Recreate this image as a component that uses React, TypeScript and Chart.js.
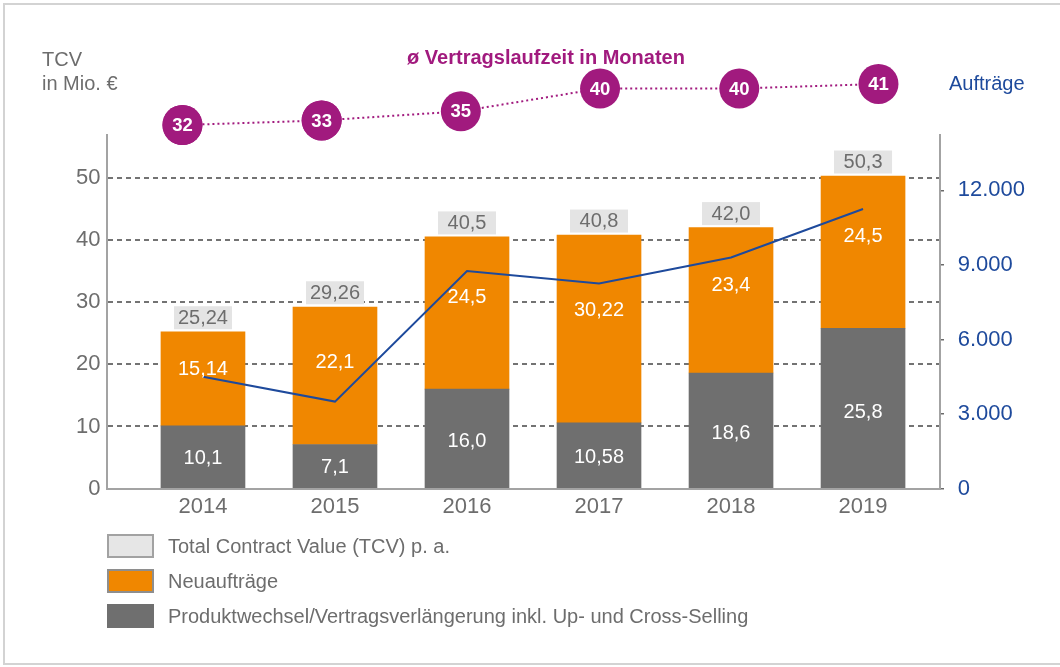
import React, { useEffect, useRef } from 'react';
import { Chart, registerables } from 'chart.js';

Chart.register(...registerables);

// ---------- data ----------
const years = ['2014', '2015', '2016', '2017', '2018', '2019'];
const produktwechsel = [10.1, 7.1, 16.0, 10.58, 18.6, 25.8];
const neuauftraege = [15.14, 22.1, 24.5, 30.22, 23.4, 24.5];
const tcvTotals = [25.24, 29.26, 40.5, 40.8, 42.0, 50.3];
const auftraege = [4500, 3500, 8750, 8250, 9300, 11250];
const laufzeit = [32, 33, 35, 40, 40, 41];
const leftTicks = [0, 10, 20, 30, 40, 50];
const rightTicks = [0, 3000, 6000, 9000, 12000];
const legendLabels = [
  'Total Contract Value (TCV) p. a.',
  'Neuaufträge',
  'Produktwechsel/Vertragsverlängerung inkl. Up- und Cross-Selling',
];

// ---------- styles ----------
const FONT = '"Liberation Sans", Arial, Helvetica, sans-serif';
const GRAY_TEXT = '#6d6d6d';
const ORANGE = '#f08700';
const DARK = '#6f6f6f';
const TCV_BOX = '#e4e4e4';
const PURPLE = '#a11a7e';
const BLUE = '#1e4a9c';
const AXIS = '#a3a3a3';

const de = (v: number) => {
  const s = String(v);
  return (s.includes('.') ? s : s + '.0').replace('.', ',');
};
const thousands = (v: number) => String(v).replace(/\B(?=(\d{3})+(?!\d))/g, '.');

// draw the "Laufzeit" circles even though they sit above the chart area
const circlePlugin = {
  id: 'circlesOutside',
  afterDatasetDraw(chart: any, args: any) {
    if (args.index !== 0) return;
    const full = { left: 0, top: 0, right: chart.width, bottom: chart.height };
    args.meta.data.forEach((el: any) => el.draw(chart.ctx, full));
  },
};

const labelPlugin = {
  id: 'barLabels',
  afterDatasetsDraw(chart: any) {
    const ctx = chart.ctx;
    const yScale = chart.scales.y;
    const xScale = chart.scales.x;
    ctx.save();
    ctx.textAlign = 'center';
    ctx.textBaseline = 'middle';
    ctx.font = `20px ${FONT}`;
    ctx.fillStyle = '#ffffff';
    const grayMeta = chart.getDatasetMeta(2);
    grayMeta.data.forEach((el: any, i: number) => {
      const p = el.getProps(['x', 'y', 'base'], true);
      ctx.fillText(de(produktwechsel[i]), p.x, p.base - (p.base - p.y) * 0.47);
    });
    const orangeMeta = chart.getDatasetMeta(3);
    orangeMeta.data.forEach((el: any, i: number) => {
      const p = el.getProps(['x', 'y', 'base'], true);
      ctx.fillText(de(neuauftraege[i]), p.x, p.base - (p.base - p.y) * 0.6);
    });
    tcvTotals.forEach((t, i) => {
      const x = xScale.getPixelForValue(i);
      const py = yScale.getPixelForValue(t);
      ctx.fillStyle = TCV_BOX;
      ctx.fillRect(x - 29, py - 2.5 - 23, 58, 23);
      ctx.fillStyle = GRAY_TEXT;
      ctx.fillText(de(t), x, py - 2.5 - 11);
    });
    const circleMeta = chart.getDatasetMeta(0);
    ctx.font = `bold 18.5px ${FONT}`;
    ctx.fillStyle = '#ffffff';
    circleMeta.data.forEach((el: any, i: number) => {
      const p = el.getProps(['x', 'y'], true);
      ctx.fillText(String(laufzeit[i]), p.x, p.y + 1);
    });
    ctx.restore();
  },
};

export default function App() {
  const ref = useRef<HTMLCanvasElement | null>(null);

  useEffect(() => {
    document.body.style.margin = '0';
    document.body.style.overflow = 'hidden';
    if (!ref.current) return;
    const chart = new Chart(ref.current, {
      data: {
        datasets: [
          {
            type: 'line',
            label: 'ø Vertragslaufzeit in Monaten',
            data: laufzeit.map((v, i) => ({ x: i, y: v })),
            xAxisID: 'x2',
            yAxisID: 'y3',
            borderColor: PURPLE,
            borderWidth: 2,
            borderDash: [2, 3],
            pointRadius: 20,
            pointHoverRadius: 20,
            pointBackgroundColor: PURPLE,
            pointBorderColor: PURPLE,
            pointBorderWidth: 0,
            clip: false,
            order: 0,
          } as any,
          {
            type: 'line',
            label: 'Aufträge',
            data: auftraege.map((v, i) => ({ x: i, y: v })),
            xAxisID: 'x',
            yAxisID: 'y2',
            borderColor: BLUE,
            borderWidth: 2,
            pointRadius: 0,
            tension: 0,
            order: 1,
          },
          {
            type: 'bar',
            label: legendLabels[2],
            data: produktwechsel.map((v, i) => ({ x: i, y: v })),
            xAxisID: 'x',
            yAxisID: 'y',
            backgroundColor: DARK,
            grouped: false,
            barThickness: 84,
            maxBarThickness: 84,
            order: 2,
          } as any,
          {
            type: 'bar',
            label: legendLabels[1],
            data: neuauftraege.map((v, i) => ({ x: i, y: v })),
            xAxisID: 'x',
            yAxisID: 'y',
            backgroundColor: ORANGE,
            grouped: false,
            barThickness: 84,
            maxBarThickness: 84,
            order: 2,
          } as any,
        ],
      },
      options: {
        animation: false,
        responsive: false,
        events: [],
        layout: { padding: { top: 135, bottom: 128.4, left: 0, right: 0 } },
        plugins: { legend: { display: false }, tooltip: { enabled: false } },
        scales: {
          x: {
            type: 'linear',
            min: -0.727,
            max: 5.583,
            offset: false,
            afterBuildTicks: (s: any) => {
              s.ticks = years.map((_, i) => ({ value: i }));
            },
            afterFit: (s: any) => {
              s.height = 50;
            },
            grid: { display: false, drawTicks: false, offset: false },
            border: { display: true, color: AXIS, width: 2 },
            ticks: {
              color: GRAY_TEXT,
              font: { family: FONT, size: 22 },
              padding: 5,
              callback: (v: any) => years[v] ?? '',
            },
          },
          x2: { type: 'linear', display: false, offset: false, min: -0.542, max: 5.442 },
          y: {
            type: 'linear',
            position: 'left',
            min: 0,
            max: 56.9,
            stacked: true,
            afterBuildTicks: (s: any) => {
              s.ticks = leftTicks.map((v) => ({ value: v }));
            },
            afterFit: (s: any) => {
              s.width = 107;
            },
            grid: {
              drawTicks: false,
              lineWidth: 2,
              color: (c: any) => (c.tick && c.tick.value === 0 ? 'rgba(0,0,0,0)' : '#737373'),
            },
            border: { display: true, color: AXIS, width: 2, dash: [5, 4] },
            ticks: {
              color: GRAY_TEXT,
              font: { family: FONT, size: 22 },
              padding: 6.5,
            },
          },
          y2: {
            type: 'linear',
            position: 'right',
            min: 0,
            max: 14225,
            afterBuildTicks: (s: any) => {
              s.ticks = rightTicks.map((v) => ({ value: v }));
            },
            afterFit: (s: any) => {
              s.width = 120;
            },
            grid: { drawOnChartArea: false, drawTicks: true, tickLength: 4, color: '#6a6a6a', lineWidth: 1.5 },
            border: { display: true, color: AXIS, width: 2 },
            ticks: {
              color: BLUE,
              font: { family: FONT, size: 22 },
              padding: 13.7,
              callback: (v: any) => thousands(Number(v)),
            },
          },
          y3: { type: 'linear', display: false, min: -47.73, max: 29.81 },
        },
      } as any,
      plugins: [circlePlugin, labelPlugin],
    });
    return () => chart.destroy();
  }, []);

  const legendBoxes = [
    { bg: '#e6e6e6', border: '2px solid #a2a2a2' },
    { bg: ORANGE, border: '2px solid #8e8e8e' },
    { bg: DARK, border: '2px solid ' + DARK },
  ];

  return (
    <div
      style={{
        position: 'relative',
        width: 1060,
        height: 667,
        overflow: 'hidden',
        background: '#ffffff',
        fontFamily: FONT,
      }}
    >
      <div
        style={{
          position: 'absolute',
          left: 3,
          top: 3,
          width: 1070,
          height: 662,
          border: '2px solid #d3d3d3',
          boxSizing: 'border-box',
        }}
      />
      <canvas ref={ref} width={1060} height={667} style={{ position: 'absolute', left: 0, top: 0 }} />
      <div
        style={{
          position: 'absolute',
          left: 42,
          top: 47,
          fontSize: 20,
          lineHeight: '24px',
          color: GRAY_TEXT,
          whiteSpace: 'nowrap',
        }}
      >
        TCV
        <br />
        in Mio. €
      </div>
      <div
        style={{
          position: 'absolute',
          left: 546,
          top: 44.7,
          transform: 'translateX(-50%)',
          fontSize: 20,
          fontWeight: 'bold',
          lineHeight: '24px',
          color: PURPLE,
          whiteSpace: 'nowrap',
        }}
      >
        ø Vertragslaufzeit in Monaten
      </div>
      <div
        style={{
          position: 'absolute',
          left: 949,
          top: 70.7,
          fontSize: 20,
          lineHeight: '24px',
          color: BLUE,
          whiteSpace: 'nowrap',
        }}
      >
        Aufträge
      </div>
      {legendLabels.map((label, i) => (
        <React.Fragment key={label}>
          <div
            style={{
              position: 'absolute',
              left: 107,
              top: 534.3 + i * 35,
              width: 47,
              height: 24,
              boxSizing: 'border-box',
              background: legendBoxes[i].bg,
              border: legendBoxes[i].border,
            }}
          />
          <div
            style={{
              position: 'absolute',
              left: 168,
              top: 534.3 + i * 35,
              fontSize: 20,
              lineHeight: '24px',
              color: GRAY_TEXT,
              whiteSpace: 'nowrap',
            }}
          >
            {label}
          </div>
        </React.Fragment>
      ))}
    </div>
  );
}
